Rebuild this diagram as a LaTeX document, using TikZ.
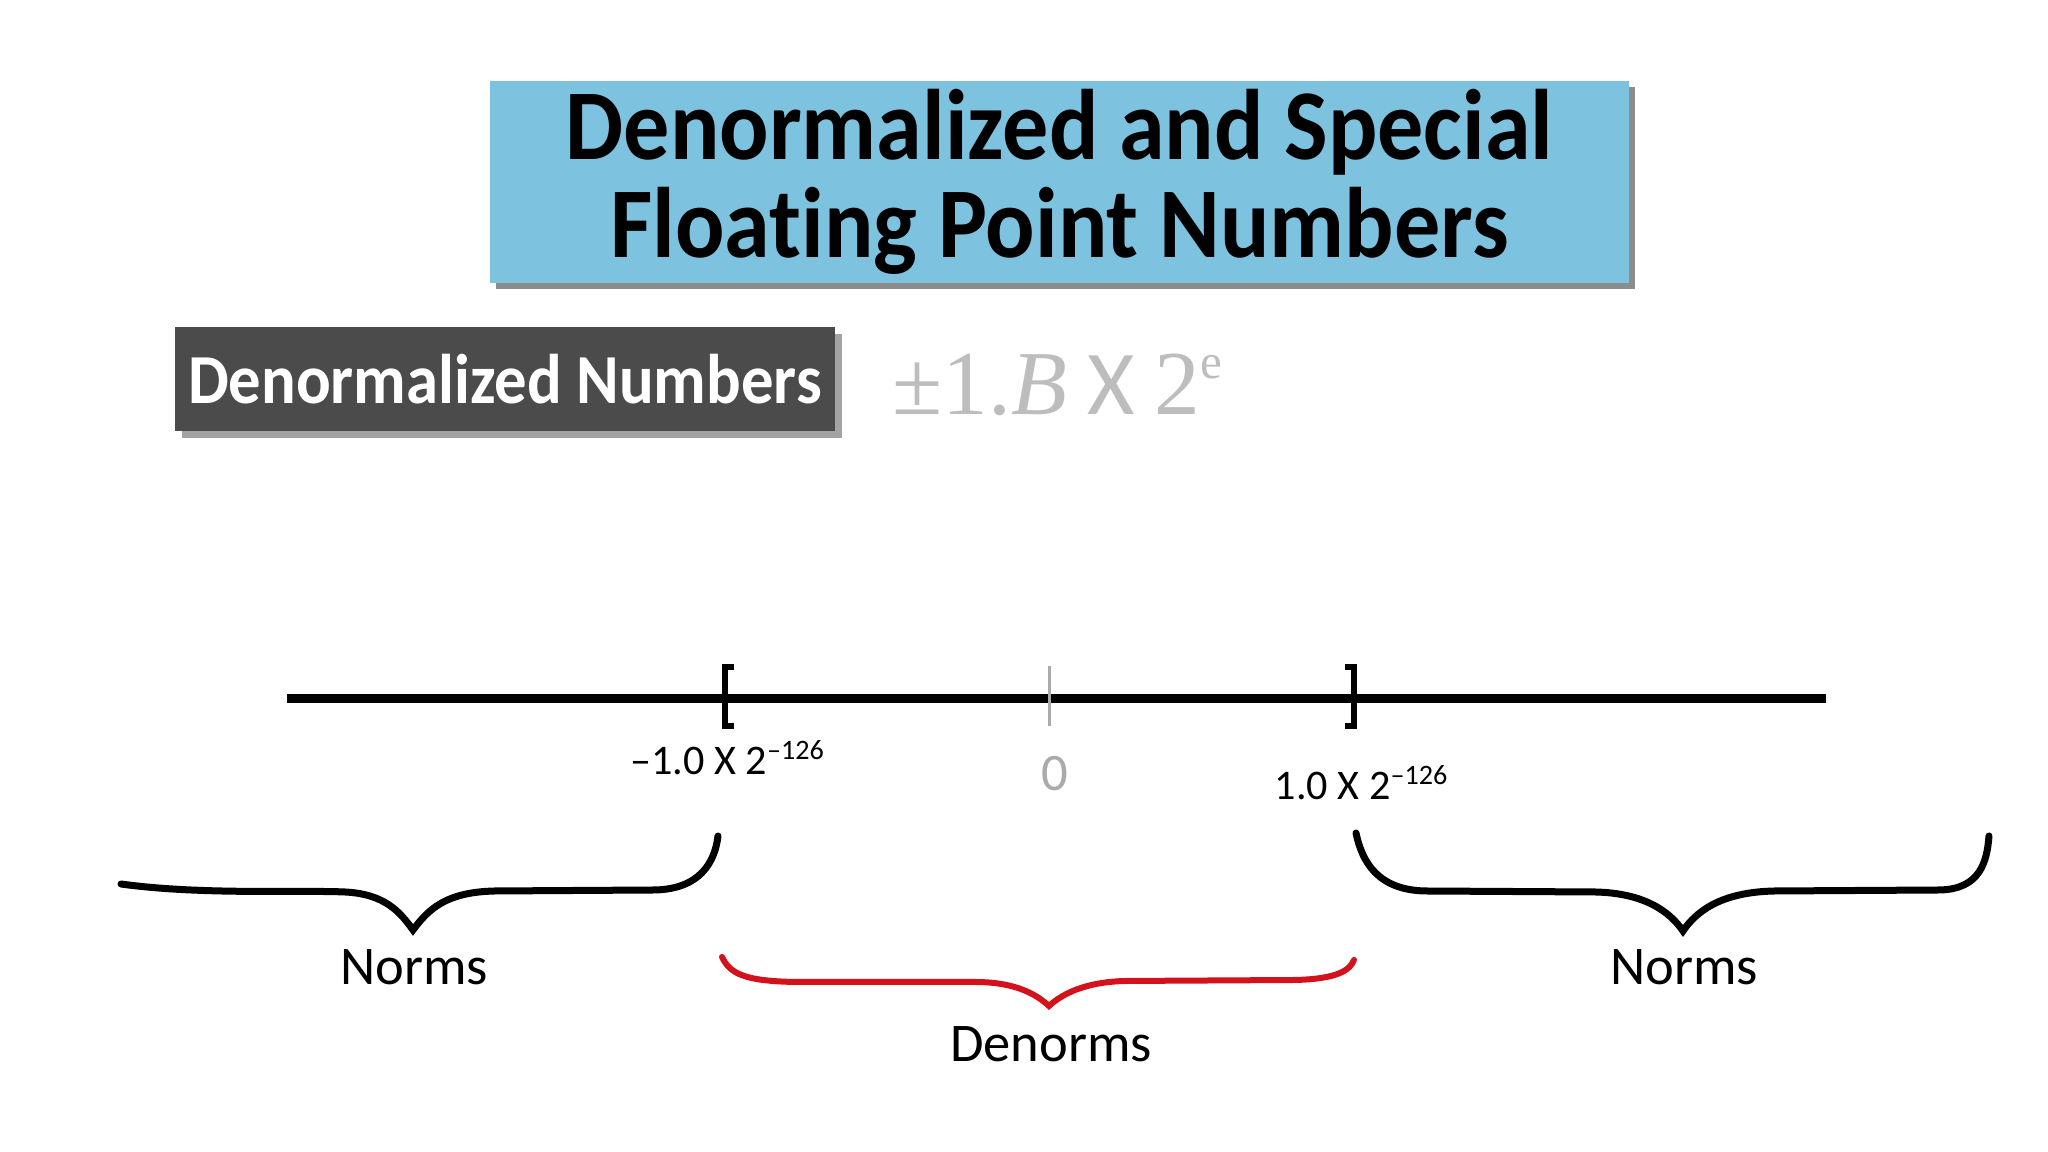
\documentclass[tikz,border=0pt]{standalone}
\usepackage{fontspec}
\setmainfont{Liberation Serif}
\newfontfamily\myriad[Ligatures=NoCommon]{Carlito}
\newfontfamily\myriadcond[Ligatures=NoCommon, FakeStretch=0.92]{Carlito}
\usetikzlibrary{shadows}
\definecolor{titleblue}{HTML}{7DC3DF}
\definecolor{headgray}{HTML}{4B4B4B}
\definecolor{shadowgray}{HTML}{8C8C8C}
\definecolor{formgray}{HTML}{BDBDBD}
\definecolor{zerogray}{HTML}{AAAAAA}
\definecolor{denormred}{HTML}{D4121C}
\tikzset{
  titlebox/.style={fill=titleblue, minimum width=11.39cm, minimum height=2.02cm, inner sep=0pt,
    align=center, font=\myriadcond\bfseries\fontsize{28.5}{28}\selectfont,
    drop shadow={shadow xshift=0.06cm, shadow yshift=-0.06cm, fill=shadowgray, opacity=1}},
  headbox/.style={fill=headgray, text=white, minimum width=6.6cm, minimum height=1.04cm, inner sep=0pt,
    font=\myriadcond\bfseries\fontsize{20}{20}\selectfont,
    drop shadow={shadow xshift=0.07cm, shadow yshift=-0.07cm, fill=shadowgray!80, opacity=1}},
  numline/.style={line width=0.09cm},
  bracket/.style={line width=0.055cm},
  ticklabel/.style={anchor=base, inner sep=0pt, font=\myriad\fontsize{12}{12}\selectfont},
  rangelabel/.style={anchor=base, inner sep=0pt, font=\myriad\fontsize{15.5}{16}\selectfont},
  normbrace/.style={line width=0.07cm, line cap=round},
  denormbrace/.style={normbrace, line width=0.06cm, draw=denormred}
}
\begin{document}
\begin{tikzpicture}
\useasboundingbox (0,0) rectangle (20.48,11.52);
% headings
\node[titlebox] (title) at (10.595,9.70) {Denormalized and Special\\Floating Point Numbers};
\node[headbox] (denormhead) at (5.05,7.73) {Denormalized Numbers};
\node[anchor=base west, inner sep=0pt, text=formgray, font=\fontsize{26}{26}\selectfont] (formula) at (8.92,7.37)
  {±1.\textit{B}\hspace{0.2cm}{\myriad X}\hspace{0.2cm}2\raisebox{10.5pt}{\fontsize{14}{14}\selectfont e}};
% number line
\coordinate (lineL) at (2.87,4.53);
\coordinate (lineR) at (18.26,4.53);
\draw[numline] (lineL) -- (lineR);
\draw[bracket] (7.34,4.85) -- (7.25,4.85) -- (7.25,4.26) -- (7.34,4.26);
\draw[bracket] (13.45,4.85) -- (13.54,4.85) -- (13.54,4.26) -- (13.45,4.26);
\draw[zerogray, line width=0.03cm] (10.49,4.26) -- (10.49,4.86);
\node[ticklabel] (negmin) at (7.28,3.77) {–1.0 X 2\textsuperscript{–126}};
\node[ticklabel, text=zerogray, font=\myriad\fontsize{15}{15}\selectfont] (zero) at (10.55,3.61) {0};
\node[ticklabel] (posmin) at (13.62,3.52) {1.0 X 2\textsuperscript{–126}};
% braces
\draw[normbrace] (1.21,2.68) .. controls (2.0,2.57) and (3.0,2.62) .. (3.45,2.60)
  .. controls (3.85,2.58) and (4.0,2.40) .. (4.13,2.22)
  .. controls (4.28,2.42) and (4.45,2.60) .. (4.95,2.61) -- (6.55,2.62)
  .. controls (7.0,2.63) and (7.15,2.90) .. (7.18,3.16);
\draw[normbrace] (13.56,3.19) .. controls (13.62,2.90) and (13.78,2.62) .. (14.25,2.61) -- (15.95,2.60)
  .. controls (16.45,2.59) and (16.70,2.40) .. (16.83,2.21)
  .. controls (16.96,2.40) and (17.20,2.60) .. (17.75,2.61) -- (19.40,2.62)
  .. controls (19.80,2.63) and (19.87,2.90) .. (19.89,3.16);
\draw[denormbrace] (7.22,1.95) .. controls (7.30,1.78) and (7.45,1.71) .. (7.95,1.70) -- (9.75,1.70)
  .. controls (10.15,1.70) and (10.36,1.58) .. (10.49,1.46)
  .. controls (10.62,1.58) and (10.85,1.70) .. (11.25,1.71) -- (12.95,1.72)
  .. controls (13.38,1.73) and (13.50,1.82) .. (13.54,1.92);
\node[rangelabel] (normsL) at (4.14,1.67) {Norms};
\node[rangelabel] (normsR) at (16.84,1.67) {Norms};
\node[rangelabel] (denorms) at (10.51,0.90) {Denorms};
\end{tikzpicture}
\end{document}
